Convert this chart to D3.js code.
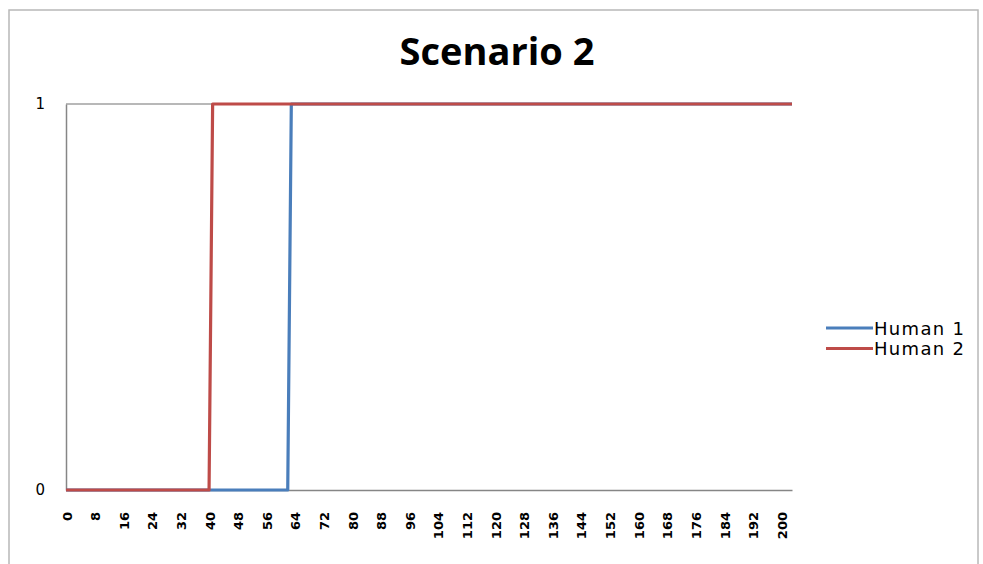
<!DOCTYPE html>
<html>
<head>
<meta charset="utf-8">
<script src="https://cdn.jsdelivr.net/npm/d3@7/dist/d3.min.js"></script>
<style>
  html, body { margin: 0; padding: 0; background: #fff; }
  svg { display: block; }
</style>
</head>
<body>
<svg id="chart" width="983" height="564"></svg>
<script>
// Time steps run from 0 to the last sample; labels every 8 steps.
const lastStep = 203;
const tickLabels = [0, 8, 16, 24, 32, 40, 48, 56, 64, 72, 80, 88, 96, 104,
                    112, 120, 128, 136, 144, 152, 160, 168, 176, 184, 192, 200];
const yTicks = [0, 1];

// State of each human as [step, value] breakpoints of the step series.
const human1 = [[0, 0], [62, 0], [63, 1], [203, 1]];
const human2 = [[0, 0], [40, 0], [41, 1], [203, 1]];

const seriesNames = ["Human 1", "Human 2"];
const seriesColors = ["#4a7ebb", "#be4b48"];
const seriesData = [human1, human2];

const svg = d3.select("#chart");

// Outer chart frame
svg.append("rect")
  .attr("x", 9).attr("y", 10)
  .attr("width", 969).attr("height", 570)
  .attr("fill", "none")
  .attr("stroke", "#b8b8b8")
  .attr("stroke-width", 1.5);

// Title
svg.append("text")
  .attr("x", 497).attr("y", 65)
  .attr("text-anchor", "middle")
  .attr("font-family", "Open Sans, Lato, sans-serif")
  .attr("font-weight", "bold")
  .attr("font-size", 38)
  .attr("fill", "#000")
  .text("Scenario 2");

const x = d3.scaleLinear().domain([0, lastStep]).range([66, 792]);
const y = d3.scaleLinear().domain([0, 1]).range([490, 104]);

// Horizontal gridline at the top value
svg.append("g")
  .selectAll("line")
  .data(yTicks.filter(d => d !== 0))
  .join("line")
  .attr("x1", x(0)).attr("x2", x(lastStep))
  .attr("y1", d => y(d)).attr("y2", d => y(d))
  .attr("stroke", "#a0a0a0")
  .attr("stroke-width", 1.5);

// Y axis
const yAxis = svg.append("g")
  .attr("transform", `translate(${x(0)},0)`)
  .call(d3.axisLeft(y).tickValues(yTicks).tickFormat(d3.format("d")).tickSize(0).tickPadding(21));
yAxis.select(".domain").attr("stroke", "#868686").attr("stroke-width", 1.5);
yAxis.selectAll("text")
  .attr("font-family", "DejaVu Sans, sans-serif")
  .attr("font-size", 15)
  .attr("fill", "#000");

// X axis
const xAxis = svg.append("g")
  .attr("transform", `translate(0,${y(0)})`)
  .call(d3.axisBottom(x).tickValues(tickLabels).tickFormat(d3.format("d")).tickSize(0).tickSizeOuter(0));
xAxis.select(".domain").attr("stroke", "#868686").attr("stroke-width", 1.5);
xAxis.selectAll("text")
  .attr("font-family", "DejaVu Sans, sans-serif")
  .attr("font-size", 13)
  .attr("font-weight", "bold")
  .attr("fill", "#000")
  .attr("text-anchor", "end")
  .attr("dy", null)
  .attr("y", 0)
  .attr("transform", "translate(5,22) rotate(-90)");

// Series lines
const line = d3.line().x(d => x(d[0])).y(d => y(d[1]));
svg.append("g")
  .selectAll("path")
  .data(seriesData)
  .join("path")
  .attr("d", line)
  .attr("fill", "none")
  .attr("stroke", (d, i) => seriesColors[i])
  .attr("stroke-width", 3.2)
  .attr("stroke-linejoin", "round");

// Legend
const legend = svg.append("g")
  .selectAll("g")
  .data(seriesNames)
  .join("g")
  .attr("transform", (d, i) => `translate(826,${328 + i * 20.5})`);
legend.append("line")
  .attr("x1", 0).attr("x2", 47)
  .attr("stroke", (d, i) => seriesColors[i])
  .attr("stroke-width", 3.2);
legend.append("text")
  .attr("x", 48).attr("y", 6.5)
  .attr("font-family", "DejaVu Sans, sans-serif")
  .attr("font-size", 18)
  .attr("letter-spacing", 1.3)
  .attr("fill", "#000")
  .text(d => d);
</script>
</body>
</html>
